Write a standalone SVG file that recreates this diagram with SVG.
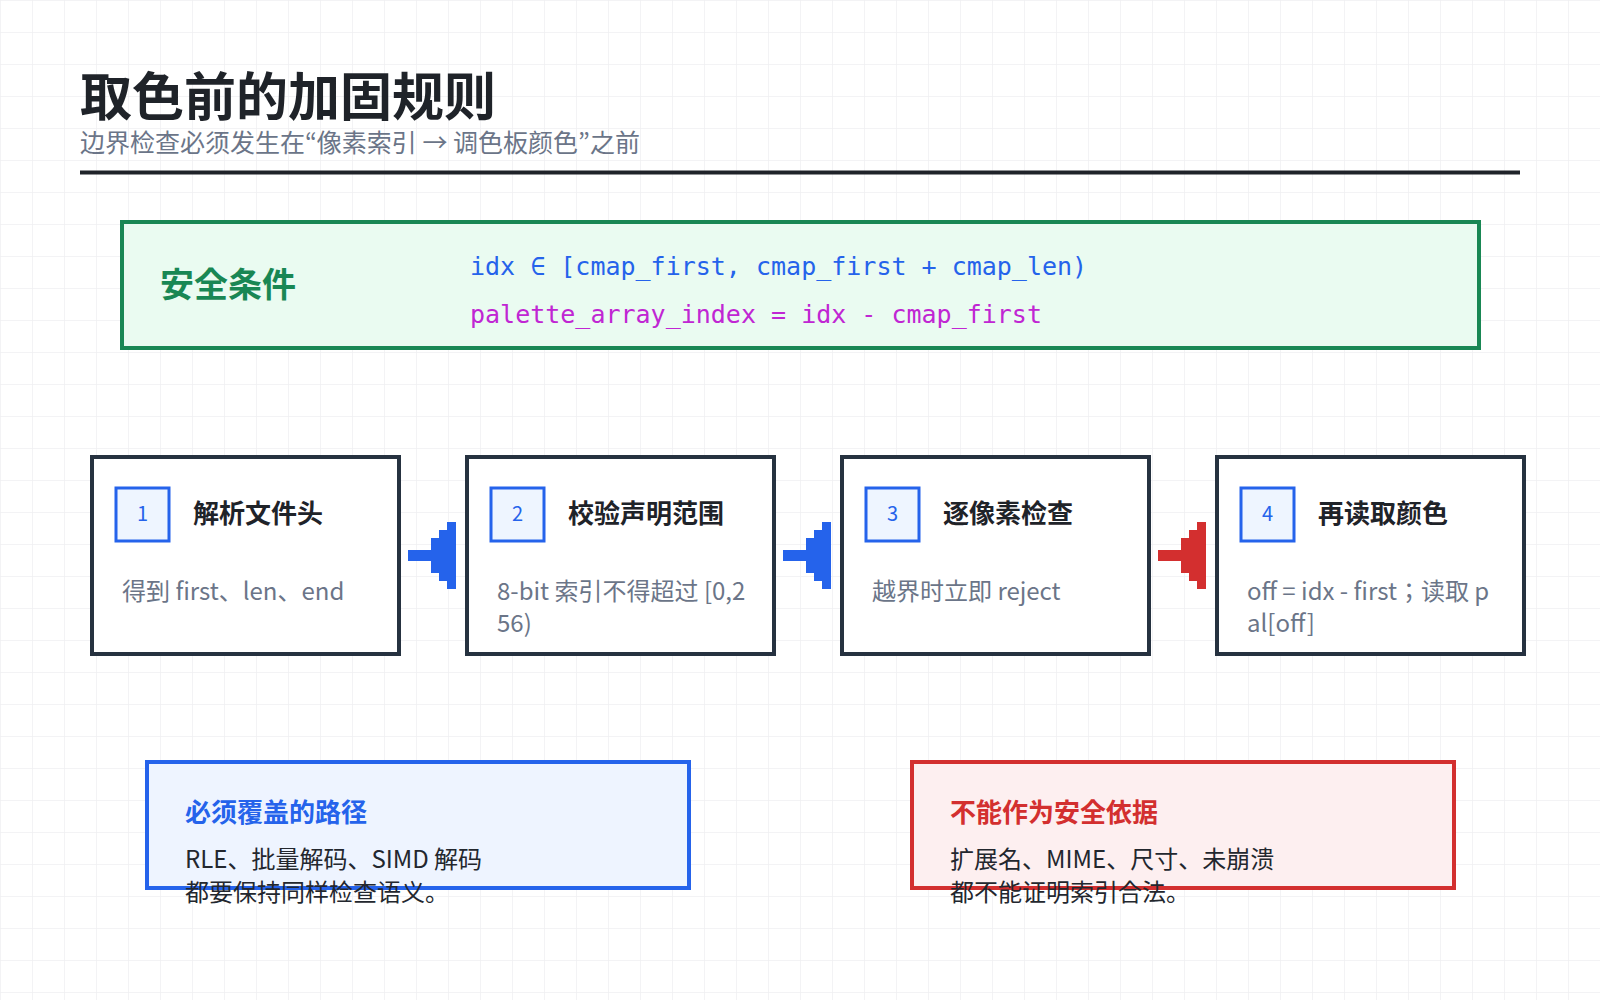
<svg xmlns="http://www.w3.org/2000/svg" width="1600" height="1000" viewBox="0 0 1600 1000">
<defs>
<pattern id="grid" width="32" height="32" patternUnits="userSpaceOnUse">
<path d="M32 0H0V32" fill="none" stroke="#eff0f2" stroke-width="1.5"/>
</pattern>
<polygon id="arr" points="0,550 23,550 23,538 31,538 31,530 39,530 39,522 48,522 48,589 39,589 39,581 31,581 31,573 23,573 23,561 0,561"/>
<style>
.cjk{font-family:"Noto Sans CJK JP","Noto Sans CJK SC","Noto Sans",sans-serif}
.mono{font-family:"DejaVu Sans Mono","Liberation Mono",monospace;font-size:25px}
.box{fill:#fff;stroke:#263240;stroke-width:4}
.badge{fill:#eef5ff;stroke:#2563eb;stroke-width:3}
.num{font-size:20px;fill:#2563eb;text-anchor:middle}
.ttl{font-size:26px;font-weight:700;fill:#1f2329}
.desc{font-size:24px;fill:#6b7588}
.body{font-size:24px;fill:#23272e}
</style>
</defs>
<rect width="1600" height="1000" fill="#ffffff"/>
<rect width="1600" height="1000" fill="url(#grid)"/>

<g id="header">
<text x="80" y="116" class="cjk" font-size="52" font-weight="700" fill="#1f2329">取色前的加固规则</text>
<text x="80" y="152" class="cjk" font-size="25" fill="#6b7588">边界检查必须发生在“像素索引 → 调色板颜色”之前</text>
<line x1="80" y1="172.5" x2="1520" y2="172.5" stroke="#1f2329" stroke-width="4"/>
</g>

<g id="safe-condition">
<rect x="122" y="222" width="1357" height="126" fill="#eafbf1" stroke="#198754" stroke-width="4"/>
<text x="160" y="297" class="cjk" font-size="34" font-weight="700" fill="#198754">安全条件</text>
<text x="470" y="275" class="mono" fill="#2563eb">idx ∈ [cmap_first, cmap_first + cmap_len)</text>
<text x="470" y="323" class="mono" fill="#c026d3">palette_array_index = idx - cmap_first</text>
</g>

<g id="step1">
<rect class="box" x="92" y="457" width="307" height="197"/>
<rect class="badge" x="116" y="488" width="53" height="53"/>
<text class="cjk num" x="142.5" y="521">1</text>
<text class="cjk ttl" x="193" y="523">解析文件头</text>
<text class="cjk desc" x="122" y="600">得到 first、len、end</text>
</g>
<g id="step2">
<rect class="box" x="467" y="457" width="307" height="197"/>
<rect class="badge" x="491" y="488" width="53" height="53"/>
<text class="cjk num" x="517.5" y="521">2</text>
<text class="cjk ttl" x="568" y="523">校验声明范围</text>
<text class="cjk desc" x="497" y="600">8-bit 索引不得超过 [0,2</text>
<text class="cjk desc" x="497" y="632">56)</text>
</g>
<g id="step3">
<rect class="box" x="842" y="457" width="307" height="197"/>
<rect class="badge" x="866" y="488" width="53" height="53"/>
<text class="cjk num" x="892.5" y="521">3</text>
<text class="cjk ttl" x="943" y="523">逐像素检查</text>
<text class="cjk desc" x="872" y="600">越界时立即 reject</text>
</g>
<g id="step4">
<rect class="box" x="1217" y="457" width="307" height="197"/>
<rect class="badge" x="1241" y="488" width="53" height="53"/>
<text class="cjk num" x="1267.5" y="521">4</text>
<text class="cjk ttl" x="1318" y="523">再读取颜色</text>
<text class="cjk desc" x="1247" y="600">off = idx - first；读取 p</text>
<text class="cjk desc" x="1247" y="632">al[off]</text>
</g>

<g id="connectors">
<use href="#arr" x="408" fill="#2563eb"/>
<use href="#arr" x="783" fill="#2563eb"/>
<use href="#arr" x="1158" fill="#d32f2f"/>
</g>

<g id="must-cover">
<rect x="147" y="762" width="542" height="126" fill="#eef4ff" stroke="#2563eb" stroke-width="4"/>
<text x="185" y="822" class="cjk" font-size="26" font-weight="700" fill="#2563eb">必须覆盖的路径</text>
<text x="185" y="868" class="cjk body">RLE、批量解码、SIMD 解码</text>
<text x="185" y="901" class="cjk body">都要保持同样检查语义。</text>
</g>

<g id="not-basis">
<rect x="912" y="762" width="542" height="126" fill="#fdeff0" stroke="#d32f2f" stroke-width="4"/>
<text x="950" y="822" class="cjk" font-size="26" font-weight="700" fill="#d32f2f">不能作为安全依据</text>
<text x="950" y="868" class="cjk body">扩展名、MIME、尺寸、未崩溃</text>
<text x="950" y="901" class="cjk body">都不能证明索引合法。</text>
</g>
</svg>
